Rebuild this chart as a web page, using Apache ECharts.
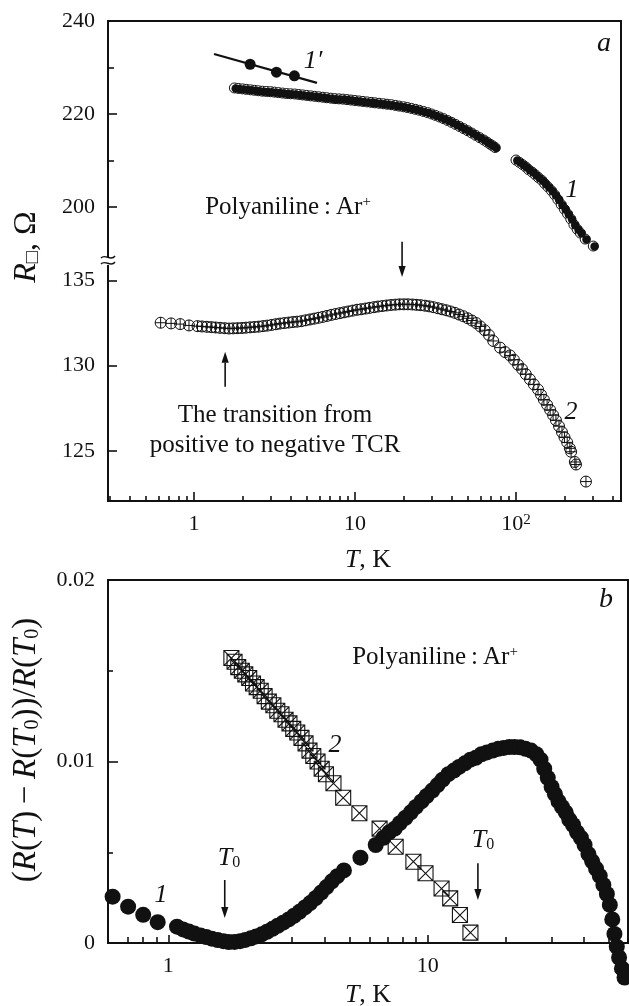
<!DOCTYPE html>
<html>
<head>
<meta charset="utf-8">
<script src="https://cdn.jsdelivr.net/npm/echarts@6.0.0/dist/echarts.min.js"></script>
<style>
  html, body { margin: 0; padding: 0; background: #fff; }
  #chart { width: 629px; height: 1006px; }
</style>
</head>
<body>
<div id="chart"></div>
<script>
// ---- Panel (a): sheet resistance vs temperature, [T (K), R (Ohm)] ----
const sample1 = [
  [1.78,225.6],[1.88,225.5],[2.00,225.4],[2.11,225.3],[2.24,225.2],[2.37,225.1],[2.51,225.0],[2.66,224.9],
  [2.82,224.85],[2.99,224.8],[3.16,224.7],[3.35,224.6],[3.55,224.5],[3.76,224.4],[3.98,224.35],[4.22,224.3],
  [4.47,224.2],[4.73,224.1],[5.01,224.0],[5.31,223.9],[5.62,223.8],[5.96,223.7],[6.31,223.6],[6.68,223.5],
  [7.08,223.4],[7.50,223.3],[7.94,223.25],[8.41,223.2],[8.91,223.1],[9.44,223.0],[10.0,222.9],[10.6,222.8],
  [11.2,222.7],[11.9,222.6],[12.6,222.5],[13.3,222.4],[14.1,222.3],[15.0,222.2],[15.8,222.1],[16.8,222.0],
  [17.8,221.85],[18.8,221.7],[20.0,221.55],[21.1,221.4],[22.4,221.2],[23.7,221.0],[25.1,220.8],[26.6,220.55],
  [28.2,220.3],[29.9,220.0],[31.6,219.7],[33.5,219.35],[35.5,219.0],[37.6,218.6],[39.8,218.2],[42.2,217.75],
  [44.7,217.3],[47.3,216.85],[50.1,216.4],[53.1,215.9],[56.2,215.4],[59.6,214.9],[63.1,214.4],[66.1,213.95],
  [69.2,213.5],[71.6,213.15],[74.1,212.8],
  [100,210.1],[105,209.6],[110,209.1],[115,208.6],[120,208.0],[126,207.5],[132,206.9],[138,206.3],
  [145,205.7],[151,205.0],[158,204.3],[166,203.5],[174,202.6],[182,201.6],[191,200.5],[200,199.5],
  [209,198.5],[219,197.4],[229,196.2],[240,195.2],[251,194.4],[269,193.1],[302,191.6]
];
const sample1Prime = [[2.23,230.7],[3.25,229.0],[4.2,228.2]];
const sample1PrimeFit = [[1.33,232.9],[5.8,226.7]];
const sample2 = [
  [0.62,132.52],[0.72,132.48],[0.82,132.44],[0.93,132.36],[1.05,132.32],[1.12,132.3],[1.2,132.28],[1.28,132.26],
  [1.36,132.24],[1.45,132.22],[1.55,132.2],[1.65,132.18],[1.75,132.19],[1.86,132.2],[1.98,132.21],[2.1,132.23],
  [2.23,132.25],[2.37,132.27],[2.52,132.29],[2.68,132.32],[2.85,132.35],[3.03,132.39],[3.22,132.43],[3.42,132.47],
  [3.64,132.5],[3.87,132.53],[4.11,132.56],[4.37,132.58],[4.64,132.61],[4.93,132.66],[5.25,132.71],[5.58,132.76],
  [5.93,132.81],[6.3,132.86],[6.7,132.92],[7.12,132.98],[7.57,133.03],[8.05,133.08],[8.55,133.13],[9.09,133.18],
  [9.66,133.23],[10.3,133.28],[10.9,133.31],[11.6,133.35],[12.3,133.39],[13.1,133.43],[13.9,133.47],[14.8,133.5],
  [15.7,133.53],[16.7,133.56],[17.8,133.58],[18.9,133.6],[20.1,133.6],[21.3,133.6],[22.7,133.59],[24.1,133.57],
  [25.6,133.55],[27.2,133.52],[28.9,133.48],[30.7,133.43],[32.7,133.37],[34.7,133.31],[36.9,133.25],[39.2,133.18],
  [41.7,133.1],[44.3,133.0],[47.1,132.9],[50.1,132.78],[53.2,132.65],[56.6,132.5],[60.1,132.3],[63.9,132.08],
  [67.9,131.8],[72.2,131.45],[79.6,131.06],[85.5,130.8],[91.8,130.6],[97,130.35],[103,130.05],[109,129.8],
  [115,129.5],[122,129.2],[129,128.9],[137,128.6],[143,128.3],[149,128.0],[156,127.7],[163,127.4],
  [170,127.1],[177,126.8],[185,126.45],[193,126.1],[200,125.8],[208,125.5],[216,125.15],[220,124.95],
  [232,124.35],[236,124.2],[272,123.2]
];

// ---- Panel (b): (R(T) - R(T0)) / R(T0), [T (K), value] ----
const norm1 = [
  [0.61,0.00255],[0.70,0.0020],[0.80,0.00155],[0.91,0.00115],[1.08,0.0009],[1.14,0.00075],[1.20,0.00063],
  [1.26,0.00052],[1.33,0.00042],[1.40,0.00033],[1.47,0.00024],[1.55,0.00016],[1.63,0.0001],[1.71,0.00005],
  [1.80,0.00006],[1.89,0.0001],[1.98,0.00017],[2.08,0.00026],[2.18,0.00036],[2.29,0.00048],[2.40,0.00062],
  [2.52,0.00078],[2.64,0.00095],[2.77,0.00112],[2.91,0.0013],[3.05,0.0015],[3.20,0.00172],[3.36,0.00196],
  [3.52,0.0022],[3.70,0.00248],[3.88,0.00278],[4.07,0.00308],[4.27,0.0034],[4.48,0.00368],[4.75,0.0040],
  [5.5,0.0047],[6.3,0.0054],[6.75,0.0058],[7.1,0.0061],[7.45,0.0063],[7.8,0.0066],[8.2,0.0069],[8.6,0.0072],
  [9.0,0.0075],[9.45,0.0078],[9.9,0.0081],[10.4,0.0084],[10.9,0.0087],[11.4,0.009],[12.0,0.0093],[12.6,0.0095],
  [13.2,0.0097],[13.9,0.0099],[14.6,0.0101],[15.3,0.0102],[16.1,0.0104],[16.9,0.0105],[17.8,0.0106],[18.7,0.0107],
  [19.6,0.01075],[20.6,0.0108],[21.6,0.0108],[22.7,0.01078],[23.8,0.0107],[25.0,0.0106],[26.2,0.0104],[27.2,0.0101],
  [28.1,0.0096],[29.0,0.0091],[30.0,0.0086],[30.9,0.0082],[31.9,0.0078],[32.9,0.0075],[34.0,0.0072],[35.1,0.0068],
  [36.3,0.0065],[37.6,0.0061],[38.9,0.0058],[40.2,0.0054],[41.6,0.0049],[43.0,0.0045],[44.5,0.0041],[46.0,0.0037],
  [47.5,0.0032],[49.0,0.0027],[50.3,0.0021],[51.4,0.0013],[52.4,0.0005],[53.5,-0.0002],[54.6,-0.0008],[56.0,-0.0014],
  [57.3,-0.0019]
];
const norm2 = [
  [1.75,0.0157],[1.80,0.0155],[1.86,0.0152],[1.92,0.0150],[1.98,0.0148],[2.05,0.0146],[2.12,0.0143],[2.19,0.0141],
  [2.27,0.0139],[2.35,0.0136],[2.44,0.0133],[2.54,0.0131],[2.63,0.0128],[2.73,0.0126],[2.83,0.0123],[2.93,0.0121],
  [3.03,0.0118],[3.14,0.0116],[3.26,0.0113],[3.38,0.0110],[3.50,0.0106],[3.62,0.0103],[3.76,0.0100],[3.90,0.0096],
  [4.05,0.0093],[4.33,0.0088],[4.72,0.0080],[5.45,0.00715],[6.52,0.0063],[7.52,0.0053],[8.8,0.00448],[9.8,0.00384],
  [11.3,0.0030],[12.2,0.00246],[13.3,0.00154],[14.6,0.00057]
];

// ---- Tick positions ----
const tempMajorA = [1, 10, 100];
const tempMinorA = [0.3,0.4,0.5,0.6,0.7,0.8,0.9,2,3,4,5,6,7,8,9,20,30,40,50,60,70,80,90,200,300,400];
const resUpperLabels = [200, 220, 240];
const resUpperMinor = [210, 230];
const resLowerLabels = [125, 130, 135];
const tempMajorB = [1, 10];
const tempMinorB = [0.7,0.8,0.9,2,3,4,5,6,7,8,9,20,30,40,50];

const INK = '#111';
const SERIF = 'Liberation Serif';

const chart = echarts.init(document.getElementById('chart'), null, { renderer: 'canvas' });

const tickLabelStyle = { color: INK, fontFamily: SERIF, fontSize: 22 };

function hiddenParts() {
  return {
    axisLine: { show: false, onZero: false },
    splitLine: { show: false },
    minorSplitLine: { show: false },
    axisTick: { show: false },
    minorTick: { show: false },
    axisLabel: { show: false }
  };
}
function logAxis(gridIndex, min, max, extra) {
  return Object.assign({ type: 'log', logBase: 10, gridIndex, min, max, position: 'bottom' }, hiddenParts(), extra || {});
}
function valAxis(gridIndex, min, max, extra) {
  return Object.assign({ type: 'value', gridIndex, min, max, position: 'left', scale: true }, hiddenParts(), extra || {});
}
function ticks(values, len) {
  return { show: true, inside: true, length: len, customValues: values, lineStyle: { color: INK, width: 1.6 } };
}

const tempLabel = v => (v === 100 ? '10{sup|2}' : String(v));

const plusCircle = 'path://M10,5A5,5,0,1,1,0,5A5,5,0,1,1,10,5ZM0,5L10,5M5,0L5,10';
const crossSquare = 'path://M0,0L10,0L10,10L0,10ZM0,0L10,10M10,0L0,10';

const A_MIN = 0.292, A_MAX = 449;
const B_MIN = 0.5855, B_MAX = 59.1;

chart.setOption({
  animation: false,
  backgroundColor: '#fff',
  grid: [
    { left: 108, top: 21, width: 513, height: 480, show: true, borderColor: INK, borderWidth: 2, backgroundColor: 'transparent', outerBoundsMode: 'none' },
    { left: 108, top: 21, width: 513, height: 239, outerBoundsMode: 'none' },
    { left: 108, top: 260, width: 513, height: 241, outerBoundsMode: 'none' },
    { left: 108, top: 580, width: 520, height: 363, show: true, borderColor: INK, borderWidth: 2, backgroundColor: 'transparent', outerBoundsMode: 'none' }
  ],
  xAxis: [
    logAxis(0, A_MIN, A_MAX, {
      axisTick: ticks(tempMajorA, 9),
      axisLabel: { show: true, customValues: tempMajorA, margin: 12, formatter: tempLabel, ...tickLabelStyle,
        rich: { sup: { fontSize: 15, fontFamily: SERIF, color: INK, verticalAlign: 'top', padding: [0, 0, 8, 0] } } }
    }),
    logAxis(0, A_MIN, A_MAX, { axisTick: ticks(tempMinorA, 5) }),
    logAxis(1, A_MIN, A_MAX),
    logAxis(2, A_MIN, A_MAX),
    logAxis(3, B_MIN, B_MAX, {
      axisTick: ticks(tempMajorB, 8),
      axisLabel: { show: true, customValues: tempMajorB, margin: 12, ...tickLabelStyle }
    }),
    logAxis(3, B_MIN, B_MAX, { axisTick: ticks(tempMinorB, 6) })
  ],
  yAxis: [
    valAxis(0, 0, 1),
    valAxis(1, 188.6, 240, {
      axisTick: ticks(resUpperLabels, 9),
      axisLabel: { show: true, customValues: resUpperLabels, margin: 13, ...tickLabelStyle }
    }),
    valAxis(1, 188.6, 240, { axisTick: ticks(resUpperMinor, 6) }),
    valAxis(2, 122.06, 136.2, {
      axisTick: ticks(resLowerLabels, 9),
      axisLabel: { show: true, customValues: resLowerLabels, margin: 13, ...tickLabelStyle }
    }),
    valAxis(3, 0, 0.02, {
      scale: false,
      interval: 0.01,
      axisTick: { show: true, inside: true, length: 10, lineStyle: { color: INK, width: 1.6 } },
      minorTick: { show: true, splitNumber: 2, length: 5, lineStyle: { color: INK, width: 1.6 } },
      axisLabel: { show: true, margin: 13, ...tickLabelStyle, formatter: v => (v === 0 ? '0' : v.toFixed(2)) }
    })
  ],
  series: [
    { // sample 1: open rim of the half-filled circles
      type: 'scatter', xAxisIndex: 2, yAxisIndex: 1, data: sample1, clip: false,
      symbol: 'circle', symbolSize: 10, itemStyle: { color: '#fff', borderColor: INK, borderWidth: 1, opacity: 1 }, z: 2
    },
    { // sample 1: filled part
      type: 'scatter', xAxisIndex: 2, yAxisIndex: 1, data: sample1, clip: false,
      symbol: 'circle', symbolSize: 8.5, symbolOffset: [1.3, 0.5], itemStyle: { color: INK, opacity: 1 }, z: 3
    },
    { // sample 1' linear fit
      type: 'line', xAxisIndex: 2, yAxisIndex: 1, data: sample1PrimeFit, symbol: 'none',
      lineStyle: { color: INK, width: 2.2 }, z: 3
    },
    {
      type: 'scatter', xAxisIndex: 2, yAxisIndex: 1, data: sample1Prime, clip: false,
      symbol: 'circle', symbolSize: 11, itemStyle: { color: INK, opacity: 1 }, z: 4
    },
    { // sample 2
      type: 'scatter', xAxisIndex: 3, yAxisIndex: 3, data: sample2, clip: false,
      symbol: plusCircle, symbolSize: 11, itemStyle: { color: 'rgba(255,255,255,0)', borderColor: INK, borderWidth: 1, opacity: 1 }, z: 3
    },
    { // panel (b), sample 1
      type: 'scatter', xAxisIndex: 4, yAxisIndex: 4, data: norm1, clip: false,
      symbol: 'circle', symbolSize: 16, itemStyle: { color: INK, opacity: 1 }, z: 3
    },
    { // panel (b), sample 2
      type: 'scatter', xAxisIndex: 4, yAxisIndex: 4, data: norm2, clip: false,
      symbol: crossSquare, symbolSize: 15, itemStyle: { color: 'rgba(255,255,255,0)', borderColor: INK, borderWidth: 1.1, opacity: 1 }, z: 4
    }
  ]
});

// ---- Annotations ----
const fontOf = (size, italic) => (italic ? 'italic ' : '') + size + 'px "' + SERIF + '"';
function richFor(size) {
  const sub = Math.round(size * 0.62);
  return {
    i: { fontStyle: 'italic', fontFamily: SERIF, fontSize: size, fill: INK },
    s: { fontFamily: SERIF, fontSize: sub, fill: INK, verticalAlign: 'bottom', padding: [Math.round(size * 0.24), 0, 0, 0] },
    sup: { fontFamily: SERIF, fontSize: Math.round(size * 0.6), fill: INK, verticalAlign: 'top', padding: [0, 0, Math.round(size * 0.32), 0] }
  };
}
function label(x, y, text, size, italic, rotation) {
  return {
    type: 'text', x, y, rotation: rotation || 0, z: 100, silent: true,
    style: {
      text, font: fontOf(size, italic), fill: INK,
      align: 'center', verticalAlign: 'middle', textAlign: 'center', textVerticalAlign: 'middle',
      rich: richFor(size)
    }
  };
}

// arrows anchored in data coordinates: [xAxisIndex, yAxisIndex, [T, value]]
const arrowSpecs = [
  { from: [2, 1, [19.6, 192.5]], to: [3, 3, [19.6, 135.2]] },
  { from: [3, 3, [1.56, 128.76]], to: [3, 3, [1.56, 130.82]] },
  { from: [4, 4, [1.65, 0.00347]], to: [4, 4, [1.65, 0.00138]] },
  { from: [4, 4, [15.6, 0.0044]], to: [4, 4, [15.6, 0.00237]] }
];
const toPx = s => chart.convertToPixel({ xAxisIndex: s[0], yAxisIndex: s[1] }, s[2]);
const arrowEls = [];
arrowSpecs.forEach(a => {
  const p1 = toPx(a.from), p2 = toPx(a.to);
  const dir = Math.sign(p2[1] - p1[1]);
  const head = 11, half = 3.6;
  arrowEls.push({
    type: 'line', z: 100, silent: true,
    shape: { x1: p1[0], y1: p1[1], x2: p2[0], y2: p2[1] - dir * head },
    style: { stroke: INK, lineWidth: 1.6 }
  });
  arrowEls.push({
    type: 'polygon', z: 100, silent: true,
    shape: { points: [[p2[0], p2[1]], [p2[0] - half, p2[1] - dir * head], [p2[0] + half, p2[1] - dir * head]] },
    style: { fill: INK }
  });
});

// axis-break mark on the left edge of panel (a)
const breakEls = [
  { type: 'rect', z: 100, silent: true, shape: { x: 104, y: 257, width: 8, height: 8 }, style: { fill: '#fff' } },
  { type: 'bezierCurve', z: 101, silent: true,
    shape: { x1: 101, y1: 258, cpx1: 105, cpy1: 253, cpx2: 111, cpy2: 262, x2: 115, y2: 256 },
    style: { stroke: INK, lineWidth: 1.4, fill: null } },
  { type: 'bezierCurve', z: 101, silent: true,
    shape: { x1: 101, y1: 264, cpx1: 105, cpy1: 259, cpx2: 111, cpy2: 268, x2: 115, y2: 262 },
    style: { stroke: INK, lineWidth: 1.4, fill: null } }
];

const textEls = [
  label(604, 44, 'a', 28, true),
  label(606, 600, 'b', 28, true),
  label(313, 61, '1′', 26, true),
  label(572, 190, '1', 26, true),
  label(571, 412, '2', 26, true),
  label(288, 207, 'Polyaniline\u2009:\u2009Ar{sup|+}', 25, false),
  label(275, 415, 'The transition from', 25, false),
  label(275, 445, 'positive to negative TCR', 25, false),
  label(368, 560, '{i|T}, K', 26, false),
  label(27, 247, '{i|R}{s|□}, Ω', 32, false, Math.PI / 2),
  label(435, 657, 'Polyaniline\u2009:\u2009Ar{sup|+}', 25, false),
  label(335, 745, '2', 26, true),
  label(161, 895, '1', 26, true),
  label(229, 858, '{i|T}{s|0}', 26, false),
  label(483, 840, '{i|T}{s|0}', 26, false),
  label(368, 995, '{i|T}, K', 26, false),
  label(26, 750, '({i|R}({i|T})\u2009−\u2009{i|R}({i|T}{s|0}))/{i|R}({i|T}{s|0})', 33, false, Math.PI / 2)
];

chart.setOption({ graphic: { elements: [...breakEls, ...arrowEls, ...textEls] } });
</script>
</body>
</html>
